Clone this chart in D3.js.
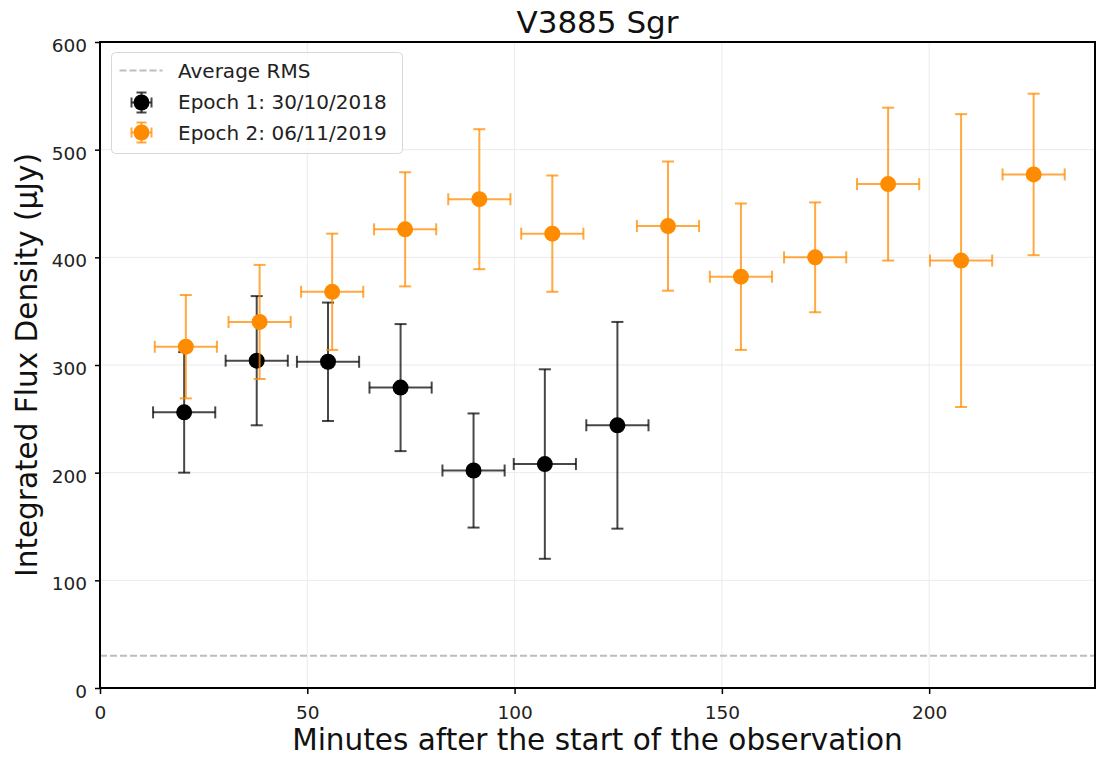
<!DOCTYPE html>
<html>
<head>
<meta charset="utf-8">
<script src="https://cdn.jsdelivr.net/npm/d3@7"></script>
<style>
  body { margin: 0; background: #fff; }
  svg { font-family: "DejaVu Sans", sans-serif; }
</style>
</head>
<body>
<svg id="chart" width="1096" height="759"></svg>
<script>
// Epoch 1: 30/10/2018
var ep1_t    = [20.3, 37.8, 55.0, 72.5, 90.1, 107.3, 124.8];
var ep1_flux = [256, 304, 303, 279, 202, 208, 244];
var ep1_err  = [56, 60, 55, 59, 53, 88, 96];
var ep1_terr = [7.5, 7.5, 7.5, 7.5, 7.5, 7.5, 7.5];

// Epoch 2: 06/11/2019
var ep2_t    = [20.7, 38.5, 56.0, 73.6, 91.5, 109.1, 137.0, 154.6, 172.5, 190.1, 207.7, 225.2];
var ep2_flux = [317, 340, 368, 426, 454, 422, 429, 382, 400, 468, 397, 477];
var ep2_err  = [48, 53, 54, 53, 65, 54, 60, 68, 51, 71, 136, 75];
var ep2_terr = [7.5, 7.5, 7.5, 7.5, 7.5, 7.5, 7.5, 7.5, 7.5, 7.5, 7.5, 7.5];

var avg_rms = 30;
var x_ticks = [0, 50, 100, 150, 200];
var y_ticks = [0, 100, 200, 300, 400, 500, 600];

var svg = d3.select("#chart");
var margin = {left: 100, top: 42, right: 1, bottom: 71};
var W = 1096, H = 759;

var x = d3.scaleLinear().domain([0, 240]).range([margin.left, W - margin.right]);
var y = d3.scaleLinear().domain([0, 600]).range([H - margin.bottom, margin.top]);

// grid
svg.append("g").selectAll("line").data(x_ticks.slice(1)).enter().append("line")
   .attr("x1", function(d) { return x(d); }).attr("x2", function(d) { return x(d); })
   .attr("y1", y(0)).attr("y2", y(600))
   .attr("stroke", "#ebebeb").attr("stroke-width", 1);
svg.append("g").selectAll("line").data(y_ticks.slice(1, -1)).enter().append("line")
   .attr("y1", function(d) { return y(d); }).attr("y2", function(d) { return y(d); })
   .attr("x1", x(0)).attr("x2", x(240))
   .attr("stroke", "#ebebeb").attr("stroke-width", 1);

// average RMS line
svg.append("line")
   .attr("x1", x(0)).attr("x2", x(240))
   .attr("y1", y(avg_rms)).attr("y2", y(avg_rms))
   .attr("stroke", "#bdbdbd").attr("stroke-width", 2)
   .attr("stroke-dasharray", "7,3");

function drawSeries(ts, fs, es, tes, color, barColor) {
    var data = ts.map(function(t, i) { return {t: t, f: fs[i], e: es[i], te: tes[i]}; });
    var g = svg.append("g");
    var cap = 6;
    var pt = g.selectAll("g").data(data).enter().append("g");
    pt.append("line")
      .attr("x1", function(d) { return x(d.t); }).attr("x2", function(d) { return x(d.t); })
      .attr("y1", function(d) { return y(d.f - d.e); }).attr("y2", function(d) { return y(d.f + d.e); });
    pt.append("line")
      .attr("x1", function(d) { return x(d.t - d.te); }).attr("x2", function(d) { return x(d.t + d.te); })
      .attr("y1", function(d) { return y(d.f); }).attr("y2", function(d) { return y(d.f); });
    [-1, 1].forEach(function(s) {
        pt.append("line")
          .attr("x1", function(d) { return x(d.t) - cap; }).attr("x2", function(d) { return x(d.t) + cap; })
          .attr("y1", function(d) { return y(d.f + s * d.e); }).attr("y2", function(d) { return y(d.f + s * d.e); });
        pt.append("line")
          .attr("x1", function(d) { return x(d.t + s * d.te); }).attr("x2", function(d) { return x(d.t + s * d.te); })
          .attr("y1", function(d) { return y(d.f) - cap; }).attr("y2", function(d) { return y(d.f) + cap; });
    });
    pt.selectAll("line").attr("stroke", barColor).attr("stroke-width", 2);
    pt.append("circle")
      .attr("cx", function(d) { return x(d.t); })
      .attr("cy", function(d) { return y(d.f); })
      .attr("r", 8)
      .attr("fill", color);
}

drawSeries(ep1_t, ep1_flux, ep1_err, ep1_terr, "#000", "rgba(0,0,0,0.72)");
drawSeries(ep2_t, ep2_flux, ep2_err, ep2_terr, "#ff8c00", "rgba(255,140,0,0.75)");

// axes
var xAxis = svg.append("g").attr("transform", "translate(0," + y(0) + ")")
   .call(d3.axisBottom(x).tickValues(x_ticks).tickSize(6).tickPadding(12));
var yAxis = svg.append("g").attr("transform", "translate(" + x(0) + ",0)")
   .call(d3.axisLeft(y).tickValues(y_ticks).tickSize(5).tickPadding(8));
[xAxis, yAxis].forEach(function(a) {
    a.select(".domain").remove();
    a.selectAll("text").attr("font-size", 18.5).attr("fill", "#222").attr("font-family", "DejaVu Sans");
    a.selectAll("line").attr("stroke", "#000").attr("stroke-width", 1.5);
});
yAxis.selectAll("text").attr("dy", "0.52em");

// frame
svg.append("rect")
   .attr("x", x(0)).attr("y", y(600))
   .attr("width", x(240) - x(0)).attr("height", y(0) - y(600))
   .attr("fill", "none").attr("stroke", "#000").attr("stroke-width", 2);

// titles
svg.append("text").attr("x", (x(0) + x(240)) / 2).attr("y", 33)
   .attr("text-anchor", "middle").attr("font-size", 31).attr("fill", "#111")
   .text("V3885 Sgr");
svg.append("text").attr("x", (x(0) + x(240)) / 2).attr("y", 750)
   .attr("text-anchor", "middle").attr("font-size", 29.5).attr("fill", "#111")
   .text("Minutes after the start of the observation");
svg.append("text")
   .attr("transform", "translate(37," + (y(0) + y(600)) / 2 + ") rotate(-90)")
   .attr("text-anchor", "middle").attr("font-size", 29.5).attr("fill", "#111")
   .text("Integrated Flux Density (μJy)");

// legend
var lg = svg.append("g").attr("transform", "translate(111.5,52.5)");
lg.append("rect").attr("width", 291).attr("height", 101).attr("rx", 4)
  .attr("fill", "#fff").attr("fill-opacity", 0.8)
  .attr("stroke", "#d8d8d8").attr("stroke-width", 1);
lg.append("line").attr("x1", 8).attr("x2", 51).attr("y1", 18).attr("y2", 18)
  .attr("stroke", "#bdbdbd").attr("stroke-width", 2).attr("stroke-dasharray", "7,3");
var legendItems = [
    {label: "Epoch 1: 30/10/2018", color: "#000", bar: "rgba(0,0,0,0.72)"},
    {label: "Epoch 2: 06/11/2019", color: "#ff8c00", bar: "rgba(255,140,0,0.75)"}
];
legendItems.forEach(function(it, i) {
    var cy = 50 + i * 30, cx = 30;
    var gg = lg.append("g");
    gg.append("line").attr("x1", cx).attr("x2", cx).attr("y1", cy - 10).attr("y2", cy + 10);
    gg.append("line").attr("x1", cx - 10).attr("x2", cx + 10).attr("y1", cy).attr("y2", cy);
    gg.append("line").attr("x1", cx - 5).attr("x2", cx + 5).attr("y1", cy - 10).attr("y2", cy - 10);
    gg.append("line").attr("x1", cx - 5).attr("x2", cx + 5).attr("y1", cy + 10).attr("y2", cy + 10);
    gg.append("line").attr("x1", cx - 10).attr("x2", cx - 10).attr("y1", cy - 5).attr("y2", cy + 5);
    gg.append("line").attr("x1", cx + 10).attr("x2", cx + 10).attr("y1", cy - 5).attr("y2", cy + 5);
    gg.selectAll("line").attr("stroke", it.bar).attr("stroke-width", 2);
    gg.append("circle").attr("cx", cx).attr("cy", cy).attr("r", 8).attr("fill", it.color);
});
var labels = ["Average RMS"].concat(legendItems.map(function(d) { return d.label; }));
lg.selectAll("text.lbl").data(labels).enter().append("text")
  .attr("class", "lbl")
  .attr("x", 66.5).attr("y", function(d, i) { return 25.5 + i * 31; })
  .attr("font-size", 20).attr("fill", "#222")
  .text(function(d) { return d; });
</script>
</body>
</html>
